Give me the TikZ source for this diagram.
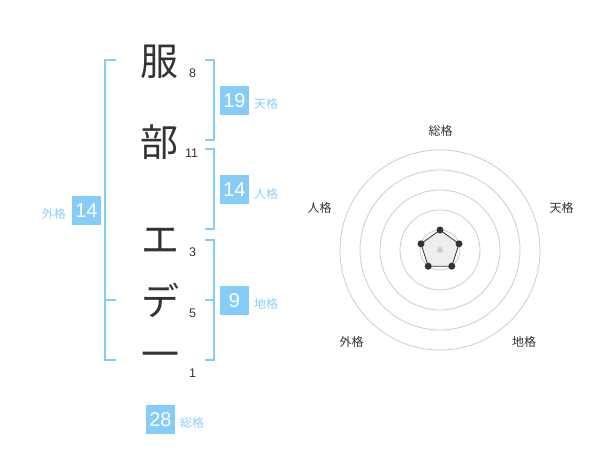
\documentclass[tikz,border=0pt]{standalone}
\usepackage{fontspec}
\newfontfamily\jpfont{Noto Sans CJK JP}
\newfontfamily\numfont{Liberation Sans}
\definecolor{kblue}{HTML}{85CCF8}
\definecolor{klabel}{HTML}{8CCFF8}
\definecolor{kdark}{HTML}{333333}
\definecolor{kgrid}{HTML}{CCCCCC}
\definecolor{kfill}{HTML}{EEEEEE}
\tikzset{
  charnode/.style={font=\jpfont\fontsize{38}{40}\selectfont, text=kdark, inner sep=0pt},
  strokenum/.style={font=\numfont\fontsize{12.5}{14}\selectfont, text=kdark, inner sep=0pt},
  valbox/.style={fill=kblue, text=white, minimum width=29pt, minimum height=29pt, inner sep=0pt, font=\numfont\fontsize{20}{22}\selectfont},
  kaklabel/.style={font=\jpfont\fontsize{12}{14}\selectfont, text=klabel, inner sep=0pt},
  radlabel/.style={font=\jpfont\fontsize{12}{14}\selectfont, text=kdark, inner sep=0pt},
  bracket/.style={draw=kblue, line width=2pt},
  gridcircle/.style={draw=kgrid, line width=0.8pt},
  vdot/.style={circle, fill=kdark, inner sep=0pt, minimum size=7pt}
}
\begin{document}
\begin{tikzpicture}[x=1pt,y=-1pt]
\path[use as bounding box] (0,0) rectangle (600,470);
% characters
\node[charnode] (c1) at (159,62) {服};
\node[charnode] (c2) at (159,142) {部};
\node[charnode] (c3) at (160,241) {エ};
\node[charnode] (c4) at (160,300) {デ};
\node[charnode] (c5) at (160,360) {一};
% stroke numbers
\node[strokenum] (n1) at (192.5,73) {8};
\node[strokenum] (n2) at (191.5,153) {11};
\node[strokenum] (n3) at (192.5,252.5) {3};
\node[strokenum] (n4) at (192.5,313.5) {5};
\node[strokenum] (n5) at (192.5,373) {1};
% brackets
\draw[bracket] (116,60) -- (105,60) -- (105,360) -- (116,360);
\draw[bracket] (105,300) -- (116,300);
\draw[bracket] (205,60) -- (214,60) -- (214,140) -- (205,140);
\draw[bracket] (205,149) -- (214,149) -- (214,229) -- (205,229);
\draw[bracket] (205,240) -- (214,240) -- (214,360) -- (205,360);
\draw[bracket] (205,300) -- (214,300);
% value boxes
\node[valbox] (ten) at (234.5,100.5) {19};
\node[kaklabel, anchor=west] (tenl) at (254,104) {天格};
\node[valbox] (jin) at (234.5,190) {14};
\node[kaklabel, anchor=west] (jinl) at (254,193.5) {人格};
\node[valbox] (chi) at (234.5,300.5) {9};
\node[kaklabel, anchor=west] (chil) at (254,304) {地格};
\node[valbox] (gai) at (86.5,210.5) {14};
\node[kaklabel, anchor=east] (gail) at (66,213.5) {外格};
\node[valbox] (sou) at (160.5,419.5) {28};
\node[kaklabel, anchor=west] (soul) at (180,423) {総格};
% radar chart
\foreach \r in {20,40,60,80,100} {
  \draw[gridcircle] (440,250) circle[radius=\r];
}
\coordinate (p1) at (440,230);
\coordinate (p2) at (459,243.8);
\coordinate (p3) at (451.8,266.2);
\coordinate (p4) at (428.2,266.2);
\coordinate (p5) at (421,243.8);
\draw[kdark, line width=0.8pt, fill=kfill] (p1) -- (p2) -- (p3) -- (p4) -- (p5) -- cycle;
\node[circle, fill=kgrid, inner sep=0pt, minimum size=6pt] (ctr) at (440,250) {};
\foreach \p in {p1,p2,p3,p4,p5} {
  \node[vdot] at (\p) {};
}
\node[radlabel] (rs) at (440.5,131) {総格};
\node[radlabel] (rt) at (561.5,208) {天格};
\node[radlabel] (rj) at (319.5,208) {人格};
\node[radlabel] (rg) at (351.5,342) {外格};
\node[radlabel] (rc) at (524,342) {地格};
\end{tikzpicture}
\end{document}
